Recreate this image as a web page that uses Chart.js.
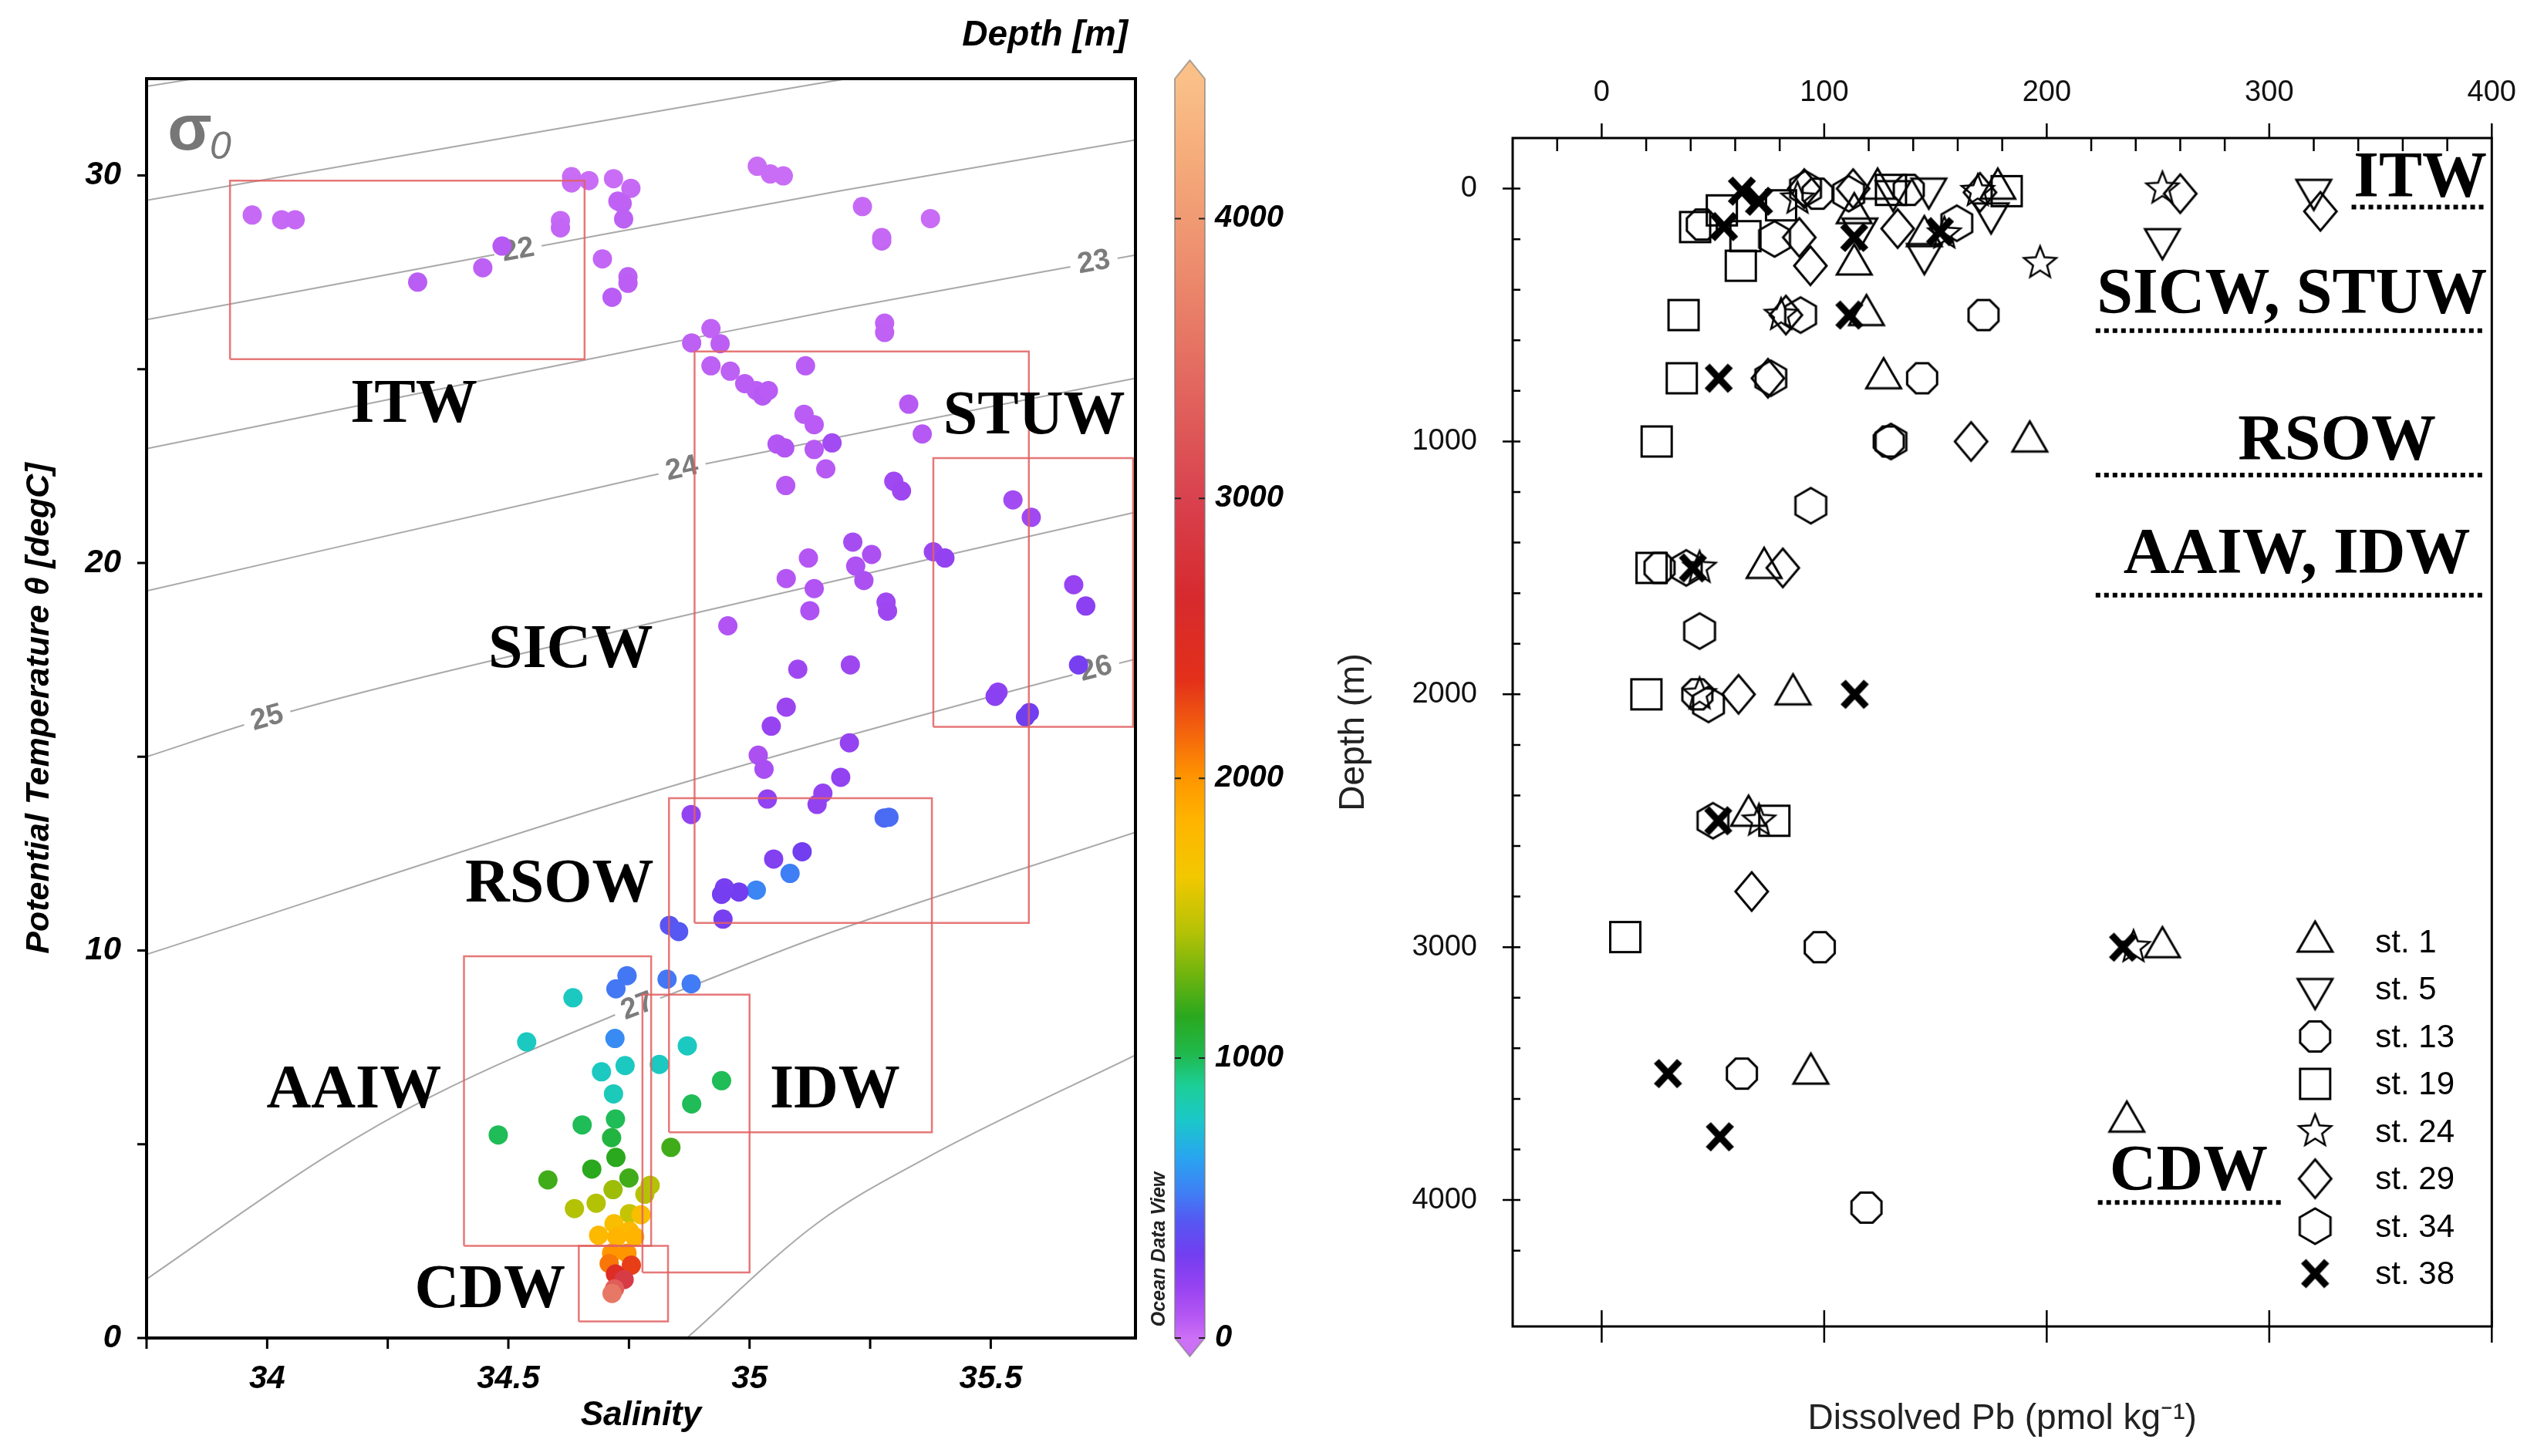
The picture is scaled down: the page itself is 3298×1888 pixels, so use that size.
<!DOCTYPE html>
<html>
<head>
<meta charset="utf-8">
<script src="https://cdn.jsdelivr.net/npm/chart.js@4.4.1/dist/chart.umd.min.js"></script>
<style>
  html, body { margin: 0; padding: 0; background: #fff; }
  #wrap { position: relative; width: 3298px; height: 1888px; }
  #tsBox { position: absolute; left: 0; top: 0; width: 1720px; height: 1888px; }
  #pbBox { position: absolute; left: 1720px; top: 0; width: 1578px; height: 1888px; }
  canvas { display: block; }
</style>
</head>
<body>
<div id="wrap">
  <div id="tsBox"><canvas id="tsChart" width="1720" height="1888"></canvas></div>
  <div id="pbBox"><canvas id="pbChart" width="1578" height="1888"></canvas></div>
</div>
<script>
// ---- left panel: T-S bottle samples (salinity, potential temperature, depth m) ----
const tsSalinity = [
  33.969, 34.030, 34.058, 34.312, 34.447, 34.487, 34.608, 34.608, 34.631, 34.631,
  34.667, 34.718, 34.754, 34.727, 34.736, 34.739, 34.695, 34.748, 34.748, 34.715,
  35.016, 35.043, 35.070, 35.234, 35.274, 35.274, 35.375, 35.280, 35.280,
  34.920, 34.880, 34.939, 34.920, 34.960, 34.990, 35.014, 35.027, 35.039, 35.116,
  35.330, 35.358, 35.113, 35.134, 35.057, 35.073, 35.134, 35.171, 35.158, 35.075,
  35.299, 35.315, 35.546, 35.584, 35.381, 35.405, 35.214, 35.253, 35.122, 35.220,
  35.237, 35.076, 35.134, 35.125, 35.283, 35.286, 35.672, 35.697, 34.955, 35.682,
  35.100, 35.209, 35.515, 35.509, 35.580, 35.572, 35.076, 35.045, 35.207, 35.018,
  35.030, 35.189, 35.037, 35.152, 35.140, 34.879, 35.279, 35.289, 35.109, 35.050,
  35.084, 35.014, 34.978, 34.948, 34.942, 34.945, 34.834, 34.853,
  34.746, 34.723, 34.829, 34.879, 34.634, 34.538, 34.721, 34.693, 34.742, 34.813,
  34.871, 34.718, 34.942, 34.880, 34.722, 34.653, 34.479, 34.714, 34.837, 34.723,
  34.673, 34.750, 34.582, 34.794, 34.717, 34.783, 34.682, 34.637, 34.751, 34.775,
  34.719, 34.687, 34.751, 34.725, 34.762, 34.714, 34.746, 34.709, 34.755, 34.722,
  34.740, 34.720, 34.715
];
const tsTheta = [
  28.98, 28.86, 28.86, 27.25, 27.62, 28.18, 28.84, 28.65, 29.97, 29.81,
  29.87, 29.92, 29.67, 29.34, 29.28, 28.88, 27.85, 27.39, 27.22, 26.86,
  30.24, 30.04, 29.99, 29.20, 28.31, 28.40, 28.89, 26.19, 25.95,
  26.05, 25.68, 25.66, 25.09, 24.95, 24.63, 24.45, 24.31, 24.45, 25.09,
  24.10, 23.33, 23.84, 23.57, 23.07, 22.97, 22.93, 23.10, 22.43, 22.00,
  22.11, 21.86, 21.63, 21.18, 20.29, 20.13, 20.54, 20.22, 20.13, 19.92,
  19.55, 19.60, 19.34, 18.77, 18.99, 18.76, 19.44, 18.89, 18.38, 17.37,
  17.26, 17.37, 16.67, 16.56, 16.14, 16.03, 16.28, 15.79, 15.36, 15.04,
  14.68, 14.47, 13.91, 14.06, 13.77, 13.51, 13.42, 13.44, 12.55, 12.36,
  11.99, 11.56, 11.51, 11.62, 11.45, 10.81, 10.65, 10.49,
  9.35, 9.01, 9.26, 9.14, 8.78, 7.64, 7.73, 6.87, 7.03, 7.06,
  7.54, 6.30, 6.64, 6.04, 5.65, 5.50, 5.24, 5.17, 4.92, 4.66,
  4.36, 4.13, 4.08, 3.94, 3.83, 3.71, 3.48, 3.34, 3.21, 3.18,
  2.95, 2.65, 2.76, 2.61, 2.61, 2.19, 2.19, 1.92, 1.88, 1.65,
  1.51, 1.27, 1.15
];
const tsDepth = [
  20, 20, 25, 60, 50, 70, 20, 30, 10, 15,
  10, 10, 20, 40, 45, 50, 30, 50, 55, 60,
  5, 10, 10, 20, 30, 25, 15, 40, 45,
  40, 50, 55, 50, 50, 60, 60, 70, 65, 60,
  70, 75, 60, 65, 80, 85, 70, 140, 70, 70,
  150, 160, 140, 150, 170, 200, 130, 110, 80, 100,
  110, 80, 90, 100, 150, 160, 180, 220, 90, 280,
  160, 160, 210, 220, 300, 310, 170, 180, 190, 110,
  120, 200, 200, 190, 200, 200, 460, 470, 300, 250,
  520, 540, 300, 280, 290, 280, 400, 420,
  500, 500, 500, 510, 800, 800, 560, 800, 800, 800,
  800, 820, 1000, 1000, 1000, 1000, 1000, 1050, 1200, 1150,
  1150, 1200, 1200, 1450, 1400, 1450, 1450, 1450, 1500, 1750,
  1750, 1800, 1800, 1850, 1850, 2000, 2000, 2100, 2300, 2500,
  2900, 3300, 3600
];

// sigma-0 isopycnals (salinity / theta pairs)
const sigmaLevels = [20, 21, 22, 23, 24, 25, 26, 27, 28];
const sigmaSal = [
  [33.75, 33.90],
  [33.75, 35.13, 35.25],
  [33.75, 34.52, 35.19, 35.80],
  [33.75, 34.39, 34.79, 35.19, 35.80],
  [33.75, 34.79, 34.92, 35.80],
  [33.75, 34.00, 34.79, 35.80],
  [33.75, 34.79, 35.65, 35.80],
  [33.75, 34.12, 34.34, 34.71, 34.84, 35.14, 35.80],
  [34.87, 35.14, 35.37, 35.80]
];
const sigmaTheta = [
  [32.30, 32.60],
  [29.36, 32.35, 32.60],
  [26.28, 28.07, 29.61, 30.92],
  [22.95, 24.57, 25.57, 26.56, 27.95],
  [19.28, 22.24, 22.59, 24.77],
  [15.00, 16.00, 18.43, 21.31],
  [9.90, 14.06, 17.05, 17.52],
  [1.52, 4.67, 6.23, 8.28, 8.89, 10.34, 13.05],
  [0.00, 2.96, 4.67, 7.30]
];
const sigmaLabelLevel = [22, 23, 24, 25, 26, 27];
const sigmaLabelSal = [34.52, 35.714, 34.86, 34.0, 35.718, 34.768];

// water mass boxes on the T-S plot
const boxNames = ['ITW', 'SICW', 'STUW', 'RSOW', 'AAIW', 'IDW', 'CDW'];
const boxSalMin = [33.923, 34.886, 35.381, 34.833, 34.408, 34.778, 34.646];
const boxSalMax = [34.658, 35.579, 35.795, 35.378, 34.796, 35.000, 34.831];
const boxThetaMin = [25.26, 10.71, 15.77, 5.31, 2.38, 1.69, 0.43];
const boxThetaMax = [29.87, 25.46, 22.71, 13.93, 9.85, 8.86, 2.38];

const massText = ['ITW', 'STUW', 'SICW', 'RSOW', 'AAIW', 'IDW', 'CDW'];
const massSal = [34.304, 35.590, 34.629, 34.606, 34.180, 35.177, 34.462];
const massTheta = [24.18, 23.89, 17.86, 11.80, 6.48, 6.48, 1.33];

// colour bar tick values (m)
const depthTicks = [0, 1000, 2000, 3000, 4000];

// ---- right panel: dissolved Pb (pmol/kg) vs depth (m) per station ----
const stationNames = ['st. 1', 'st. 5', 'st. 13', 'st. 19', 'st. 24', 'st. 29', 'st. 34', 'st. 38'];
const pbSt1 = [[124, 0], [178, 0], [113.5, 97], [145, 188], [113.5, 300], [119, 500], [126.7, 750],
  [192.4, 1000], [73, 1500], [86, 2000], [66, 2480], [252, 3000], [94, 3500], [236, 3690]];
const pbSt5 = [[131, 10], [147, 0], [175, 98], [116, 158], [145, 259], [320, 5], [252, 200]];
const pbSt13 = [[97, 20], [138, 5], [45, 142], [171.6, 500], [144, 750], [129, 1000], [26, 1500],
  [43, 2000], [98, 3000], [63, 3500], [119, 4030]];
const pbSt19 = [[80.6, 66], [130, 5], [182, 10], [42, 152], [54, 86], [64.6, 188], [62.5, 305],
  [36.8, 500], [36, 750], [24.7, 1000], [22.4, 1500], [20.1, 2000], [77.6, 2500], [10.6, 2960]];
const pbSt24 = [[169, 10], [252, 0], [154, 178], [197, 295], [88, 40], [80.6, 500], [44, 1500],
  [44, 2000], [70.7, 2500], [239, 3000]];
const pbSt29 = [[91, 0], [113, 0], [170, 15], [260, 20], [323, 90], [88.8, 193], [133, 158],
  [93.8, 305], [82.8, 500], [74.7, 750], [166, 1000], [81.4, 1500], [61.5, 2000], [67.4, 2780]];
const pbSt34 = [[91.6, 0], [111, 20], [77.7, 199], [159.6, 137], [89.4, 500], [76, 750], [130, 1000],
  [94, 1254], [38, 1500], [44, 1750], [48, 2040], [50, 2500]];
const pbSt38 = [[63, 10], [70.7, 50], [55, 150], [113.5, 193], [152, 170], [111.3, 500], [52.6, 750],
  [41, 1500], [113.7, 2000], [52.4, 2500], [234.3, 3000], [29.8, 3500], [53.1, 3750]];
const stationData = [pbSt1, pbSt5, pbSt13, pbSt19, pbSt24, pbSt29, pbSt34, pbSt38];
const stationSymbol = ['triUp', 'triDown', 'octagon', 'square', 'star', 'diamond', 'hexagon', 'cross'];

const layerText = ['ITW', 'SICW, STUW', 'RSOW', 'AAIW, IDW', 'CDW'];
const layerPb = [367.9, 310.2, 330.4, 312.4, 263.8];
const layerDepth = [-55, 408, 985, 1435, 3876];
const layerLineFrom = [337, 222, 222, 222, 223];
const layerLineTo = [397, 397, 397, 397, 306];
const layerLineDepth = [73, 562, 1133, 1608, 4010];

// ODV-like depth colour scale
const cmapDepth = [0, 80, 180, 300, 420, 520, 650, 780, 900, 1020, 1150, 1300, 1450, 1650, 1850, 2000, 2150, 2350, 2650, 3000, 3400, 3800, 4200, 4500];
const cmapColor = ['#cc70f6', '#b456f3', '#9843f1', '#723ef0', '#5558f2', '#3f7ff5', '#28a6ef', '#1bc8c8', '#1ccf98', '#20b84a', '#2aa81e', '#70b40e', '#b4c206', '#f2c800', '#ffb400', '#ff9600', '#f5680c', '#e3301a', '#d62a2e', '#d8424e', '#e2665e', '#ec8a6c', '#f5aa7a', '#fac088'];

Chart.defaults.font.family = '"Liberation Sans", Arial, sans-serif';

function hexRgb(h) {
  return [parseInt(h.slice(1, 3), 16), parseInt(h.slice(3, 5), 16), parseInt(h.slice(5, 7), 16)];
}

function depthColor(d) {
  for (let i = 0; i < cmapDepth.length - 1; i++) {
    if (d >= cmapDepth[i] && d <= cmapDepth[i + 1]) {
      const f = (d - cmapDepth[i]) / (cmapDepth[i + 1] - cmapDepth[i]);
      const a = hexRgb(cmapColor[i]), b = hexRgb(cmapColor[i + 1]);
      return 'rgb(' + a.map((v, k) => Math.round(v + (b[k] - v) * f)).join(',') + ')';
    }
  }
  return cmapColor[cmapColor.length - 1];
}

function interp(xs, ys, x) {
  for (let i = 0; i < xs.length - 1; i++) {
    if (x >= xs[i] && x <= xs[i + 1]) return ys[i] + (ys[i + 1] - ys[i]) * (x - xs[i]) / (xs[i + 1] - xs[i]);
  }
  return x < xs[0] ? ys[0] : ys[ys.length - 1];
}

const serifBold = (px) => 'bold ' + px + 'px "Liberation Serif", "Times New Roman", serif';
const sansBI = (px) => 'italic bold ' + px + 'px "Liberation Sans", Arial, sans-serif';

// ---------- left chart ----------
const boxSets = boxNames.map((name, i) => ({
  label: name,
  data: [
    { x: boxSalMin[i], y: boxThetaMin[i] }, { x: boxSalMax[i], y: boxThetaMin[i] },
    { x: boxSalMax[i], y: boxThetaMax[i] }, { x: boxSalMin[i], y: boxThetaMax[i] },
    { x: boxSalMin[i], y: boxThetaMin[i] }
  ],
  showLine: true, pointRadius: 0, borderColor: 'rgba(226,96,96,0.85)', borderWidth: 2.5, fill: false
}));

const sampleSet = {
  label: 'samples',
  data: tsSalinity.map((s, i) => ({ x: s, y: tsTheta[i] })),
  pointRadius: 12.5,
  pointBorderWidth: 0,
  pointBackgroundColor: tsDepth.map(depthColor),
  pointBorderColor: tsDepth.map(depthColor)
};

const contourSets = sigmaLevels.map((lev, k) => ({
  label: 'sigma ' + lev,
  sigma: lev,
  data: sigmaSal[k].map((s, j) => ({ x: s, y: sigmaTheta[k][j] })),
  showLine: true, pointRadius: 0, borderColor: '#a9a9a9', borderWidth: 2,
  cubicInterpolationMode: 'monotone'
}));

const tsDecor = {
  id: 'tsDecor',
  afterDatasetDraw(chart, args) {
    const ds = chart.data.datasets[args.index];
    if (ds.sigma === undefined) return;
    const li = sigmaLabelLevel.indexOf(ds.sigma);
    if (li < 0) return;
    const k = sigmaLevels.indexOf(ds.sigma);
    const xs = chart.scales.x, ys = chart.scales.y, ctx = chart.ctx;
    const s0 = sigmaLabelSal[li];
    const px = xs.getPixelForValue(s0), py = ys.getPixelForValue(interp(sigmaSal[k], sigmaTheta[k], s0));
    const ax = xs.getPixelForValue(s0 - 0.05), ay = ys.getPixelForValue(interp(sigmaSal[k], sigmaTheta[k], s0 - 0.05));
    const bx = xs.getPixelForValue(s0 + 0.05), by = ys.getPixelForValue(interp(sigmaSal[k], sigmaTheta[k], s0 + 0.05));
    const ang = Math.atan2(by - ay, bx - ax);
    ctx.save();
    ctx.translate(px, py);
    ctx.rotate(ang);
    ctx.font = 'bold 38px "Liberation Sans", Arial, sans-serif';
    const txt = String(ds.sigma);
    const w = ctx.measureText(txt).width + 20;
    ctx.fillStyle = '#fff';
    ctx.fillRect(-w / 2, -7, w, 14);
    ctx.fillStyle = '#7c7c7c';
    ctx.textAlign = 'center';
    ctx.textBaseline = 'middle';
    ctx.fillText(txt, 0, 0);
    ctx.restore();
  },
  afterDatasetsDraw(chart) {
    const ctx = chart.ctx, xs = chart.scales.x, ys = chart.scales.y, ca = chart.chartArea;
    ctx.save();
    ctx.fillStyle = '#000';
    ctx.font = serifBold(80);
    ctx.textAlign = 'center';
    ctx.textBaseline = 'alphabetic';
    massText.forEach((t, i) => {
      ctx.fillText(t, xs.getPixelForValue(massSal[i]), ys.getPixelForValue(massTheta[i]) + 27);
    });
    // sigma-0 tag
    ctx.fillStyle = '#777';
    ctx.font = 'bold 84px "Liberation Sans", Arial, sans-serif';
    ctx.textAlign = 'center';
    ctx.fillText('σ', ca.left + 56, ca.top + 92);
    ctx.font = 'italic 50px "Liberation Sans", Arial, sans-serif';
    ctx.fillText('0', ca.left + 96, ca.top + 104);
    ctx.restore();
  },
  afterDraw(chart) {
    const ctx = chart.ctx, ca = chart.chartArea, xs = chart.scales.x, ys = chart.scales.y, cb = chart.scales.cb;
    ctx.save();
    ctx.strokeStyle = '#000';
    ctx.lineWidth = 3;
    ctx.beginPath();
    xs.ticks.forEach(t => {
      const px = xs.getPixelForValue(t.value);
      ctx.moveTo(px, ca.bottom);
      ctx.lineTo(px, ca.bottom + 14);
    });
    ys.ticks.forEach(t => {
      const py = ys.getPixelForValue(t.value);
      ctx.moveTo(ca.left - 12, py);
      ctx.lineTo(ca.left, py);
    });
    ctx.stroke();
    ctx.lineWidth = 4;
    ctx.strokeRect(ca.left, ca.top, ca.right - ca.left, ca.bottom - ca.top);

    // colour bar
    const bx0 = ca.right + 51, bx1 = ca.right + 90, mid = (bx0 + bx1) / 2;
    const yTop = cb.getPixelForValue(4500), yBot = cb.getPixelForValue(0);
    const grad = ctx.createLinearGradient(0, yBot, 0, yTop);
    cmapDepth.forEach((d, i) => grad.addColorStop(d / 4500, cmapColor[i]));
    ctx.fillStyle = grad;
    ctx.fillRect(bx0, yTop, bx1 - bx0, yBot - yTop);
    ctx.fillStyle = cmapColor[cmapColor.length - 1];
    ctx.beginPath();
    ctx.moveTo(bx0, yTop + 0.5); ctx.lineTo(mid, yTop - 24); ctx.lineTo(bx1, yTop + 0.5);
    ctx.closePath(); ctx.fill();
    ctx.fillStyle = cmapColor[0];
    ctx.beginPath();
    ctx.moveTo(bx0, yBot - 0.5); ctx.lineTo(mid, yBot + 24); ctx.lineTo(bx1, yBot - 0.5);
    ctx.closePath(); ctx.fill();
    ctx.strokeStyle = 'rgba(120,120,120,0.6)';
    ctx.lineWidth = 2;
    ctx.beginPath();
    ctx.moveTo(bx0, yBot); ctx.lineTo(mid, yBot + 24); ctx.lineTo(bx1, yBot);
    ctx.lineTo(bx1, yTop); ctx.lineTo(mid, yTop - 24); ctx.lineTo(bx0, yTop); ctx.closePath();
    ctx.stroke();
    ctx.strokeStyle = '#222';
    ctx.lineWidth = 2;
    ctx.beginPath();
    depthTicks.forEach(v => {
      const py = cb.getPixelForValue(v);
      ctx.moveTo(bx0, py); ctx.lineTo(bx0 + 8, py);
      ctx.moveTo(bx1 - 8, py); ctx.lineTo(bx1, py);
    });
    ctx.stroke();
    ctx.fillStyle = '#000';
    ctx.font = sansBI(40);
    ctx.textAlign = 'left';
    ctx.textBaseline = 'middle';
    depthTicks.forEach(v => {
      ctx.fillText(String(v), ca.right + 103, cb.getPixelForValue(v));
    });

    ctx.font = sansBI(46);
    ctx.textAlign = 'right';
    ctx.fillText('Depth [m]', ca.right - 10, 46);

    ctx.save();
    ctx.translate(ca.right + 31, ca.bottom - 115);
    ctx.rotate(-Math.PI / 2);
    ctx.font = sansBI(25);
    ctx.fillStyle = '#222';
    ctx.textAlign = 'center';
    ctx.fillText('Ocean Data View', 0, 0);
    ctx.restore();
    ctx.restore();
  }
};

const keepMultiples = (step) => (s) => {
  s.ticks = s.ticks.filter(t => Math.abs(t.value / step - Math.round(t.value / step)) < 1e-6);
};

const tsChart = new Chart(document.getElementById('tsChart'), {
  type: 'scatter',
  data: { datasets: [...boxSets, sampleSet, ...contourSets] },
  options: {
    responsive: false,
    animation: false,
    devicePixelRatio: 1,
    events: [],
    layout: { padding: { top: 102, right: 0, bottom: 0, left: 0 } },
    plugins: { legend: { display: false }, tooltip: { enabled: false } },
    scales: {
      x: {
        type: 'linear', min: 33.75, max: 35.8,
        grid: { display: false, drawTicks: false }, border: { display: false },
        afterBuildTicks: keepMultiples(0.25),
        ticks: {
          stepSize: 0.25, autoSkip: false, maxRotation: 0, padding: 28, color: '#000',
          font: { size: 42, style: 'italic', weight: 'bold' },
          callback: v => (Math.abs(v * 2 - Math.round(v * 2)) < 1e-6 ? String(+v.toFixed(1)) : '')
        },
        title: { display: true, text: 'Salinity', color: '#000', font: { size: 44, style: 'italic', weight: 'bold' }, padding: { top: 0, bottom: 26 } },
        afterFit: s => { s.height = 153; }
      },
      y: {
        type: 'linear', position: 'left', min: 0, max: 32.5,
        grid: { display: false, drawTicks: false }, border: { display: false },
        afterBuildTicks: keepMultiples(5),
        ticks: {
          stepSize: 5, autoSkip: false, padding: 33, color: '#000',
          font: { size: 42, style: 'italic', weight: 'bold' },
          callback: v => (v % 10 === 0 ? String(v) : '')
        },
        title: { display: true, text: 'Potential Temperature θ [degC]', color: '#000', font: { size: 43, style: 'italic', weight: 'bold' }, padding: { top: 25, bottom: 0 } },
        afterFit: s => { s.width = 190; }
      },
      cb: {
        type: 'linear', position: 'right', min: 0, max: 4500,
        grid: { display: false, drawTicks: false }, border: { display: false },
        ticks: { display: false },
        afterFit: s => { s.width = 248; }
      }
    }
  },
  plugins: [tsDecor]
});

// ---------- right chart ----------
function symbolCanvas(kind) {
  const c = document.createElement('canvas');
  c.width = 64; c.height = 64;
  const g = c.getContext('2d');
  const cx = 32, cy = 32;
  g.strokeStyle = '#000';
  g.lineWidth = 3;
  g.lineJoin = 'miter';
  g.beginPath();
  const poly = (n, r, a0) => {
    for (let i = 0; i < n; i++) {
      const a = a0 + i * 2 * Math.PI / n;
      if (i === 0) g.moveTo(cx + r * Math.cos(a), cy + r * Math.sin(a));
      else g.lineTo(cx + r * Math.cos(a), cy + r * Math.sin(a));
    }
    g.closePath();
  };
  if (kind === 'triUp') {
    g.moveTo(cx, cy - 26); g.lineTo(cx + 22.5, cy + 13); g.lineTo(cx - 22.5, cy + 13); g.closePath();
  } else if (kind === 'triDown') {
    g.moveTo(cx, cy + 26); g.lineTo(cx + 22.5, cy - 13); g.lineTo(cx - 22.5, cy - 13); g.closePath();
  } else if (kind === 'square') {
    g.rect(cx - 19.5, cy - 19.5, 39, 39);
  } else if (kind === 'diamond') {
    g.moveTo(cx, cy - 25); g.lineTo(cx + 21, cy); g.lineTo(cx, cy + 25); g.lineTo(cx - 21, cy); g.closePath();
  } else if (kind === 'octagon') {
    poly(8, 21, Math.PI / 8);
  } else if (kind === 'hexagon') {
    poly(6, 23, -Math.PI / 2);
  } else if (kind === 'star') {
    g.lineWidth = 2.5;
    for (let i = 0; i < 10; i++) {
      const a = -Math.PI / 2 + i * Math.PI / 5;
      const r = i % 2 === 0 ? 22 : 9.5;
      if (i === 0) g.moveTo(cx + r * Math.cos(a), cy + r * Math.sin(a));
      else g.lineTo(cx + r * Math.cos(a), cy + r * Math.sin(a));
    }
    g.closePath();
  } else if (kind === 'cross') {
    g.lineWidth = 9;
    g.moveTo(cx - 15, cy - 16); g.lineTo(cx + 15, cy + 16);
    g.moveTo(cx + 15, cy - 16); g.lineTo(cx - 15, cy + 16);
  }
  g.stroke();
  return c;
}

const symbolImgs = stationSymbol.map(symbolCanvas);

const pbSets = stationNames.map((name, i) => ({
  label: name,
  data: stationData[i].map(p => ({ x: p[0], y: p[1] })),
  pointStyle: symbolImgs[i],
  pointRadius: 20
}));

const pbDecor = {
  id: 'pbDecor',
  afterDraw(chart) {
    const ctx = chart.ctx, ca = chart.chartArea, xs = chart.scales.x, ys = chart.scales.y;
    ctx.save();
    ctx.strokeStyle = '#000';
    ctx.lineWidth = 3;
    ctx.strokeRect(ca.left, ca.top, ca.right - ca.left, ca.bottom - ca.top);
    ctx.lineWidth = 2.5;
    ctx.beginPath();
    xs.ticks.forEach(t => {
      if (t.value <= xs.min) return;
      const px = xs.getPixelForValue(t.value);
      if (t.value % 100 === 0) {
        ctx.moveTo(px, ca.top - 19); ctx.lineTo(px, ca.top);
        ctx.moveTo(px, ca.bottom - 21); ctx.lineTo(px, ca.bottom + 21);
      } else {
        ctx.moveTo(px, ca.top); ctx.lineTo(px, ca.top + 17);
      }
    });
    ys.ticks.forEach(t => {
      if (t.value <= ys.min) return;
      const py = ys.getPixelForValue(t.value);
      if (t.value % 1000 === 0) { ctx.moveTo(ca.left - 13, py); ctx.lineTo(ca.left + 10, py); }
      else { ctx.moveTo(ca.left, py); ctx.lineTo(ca.left + 10, py); }
    });
    ctx.stroke();

    // water mass layers
    ctx.fillStyle = '#000';
    ctx.font = serifBold(84);
    ctx.textAlign = 'center';
    ctx.textBaseline = 'alphabetic';
    layerText.forEach((t, i) => {
      ctx.fillText(t, xs.getPixelForValue(layerPb[i]), ys.getPixelForValue(layerDepth[i]) + 28);
    });
    ctx.setLineDash([6, 5]);
    ctx.lineWidth = 6;
    ctx.beginPath();
    layerLineDepth.forEach((d, i) => {
      const py = ys.getPixelForValue(d);
      ctx.moveTo(xs.getPixelForValue(layerLineFrom[i]), py);
      ctx.lineTo(xs.getPixelForValue(layerLineTo[i]), py);
    });
    ctx.stroke();
    ctx.setLineDash([]);

    // legend
    ctx.font = '42px "Liberation Sans", Arial, sans-serif';
    ctx.textAlign = 'left';
    ctx.textBaseline = 'middle';
    stationNames.forEach((name, i) => {
      const y = ca.bottom - 499 + 61.5 * i;
      const img = symbolImgs[i];
      ctx.drawImage(img, ca.right - 229 - img.width / 2, y - img.height / 2);
      ctx.fillText(name, ca.right - 151, y + 2);
    });
    ctx.restore();
  }
};

const pbChart = new Chart(document.getElementById('pbChart'), {
  type: 'scatter',
  data: { datasets: pbSets },
  options: {
    responsive: false,
    animation: false,
    devicePixelRatio: 1,
    events: [],
    layout: { padding: { top: 0, right: 60, bottom: 0, left: 0 } },
    plugins: { legend: { display: false }, tooltip: { enabled: false } },
    scales: {
      x: {
        type: 'linear', position: 'top', min: -40, max: 400,
        grid: { display: false, drawTicks: false }, border: { display: false },
        afterBuildTicks: keepMultiples(20),
        ticks: {
          stepSize: 20, autoSkip: false, maxRotation: 0, padding: 36, color: '#111', font: { size: 38 },
          callback: v => (v % 100 === 0 ? String(v) : '')
        },
        afterFit: s => { s.height = 179; }
      },
      x2: {
        type: 'linear', position: 'bottom', min: -40, max: 400,
        grid: { display: false, drawTicks: false }, border: { display: false },
        ticks: { display: false },
        title: { display: true, text: 'Dissolved Pb (pmol kg⁻¹)', color: '#222', font: { size: 46 }, padding: { top: 0, bottom: 20 } },
        afterFit: s => { s.height = 168; }
      },
      y: {
        type: 'linear', position: 'left', reverse: true, min: -200, max: 4500,
        grid: { display: false, drawTicks: false }, border: { display: false },
        afterBuildTicks: keepMultiples(200),
        ticks: {
          stepSize: 200, autoSkip: false, padding: 46, color: '#111', font: { size: 38 },
          callback: v => (v >= 0 && v % 1000 === 0 ? String(v) : '')
        },
        title: { display: true, text: 'Depth (m)', color: '#222', font: { size: 46 }, padding: { top: 8, bottom: 0 } },
        afterFit: s => { s.width = 241; }
      }
    }
  },
  plugins: [pbDecor]
});
</script>
</body>
</html>
